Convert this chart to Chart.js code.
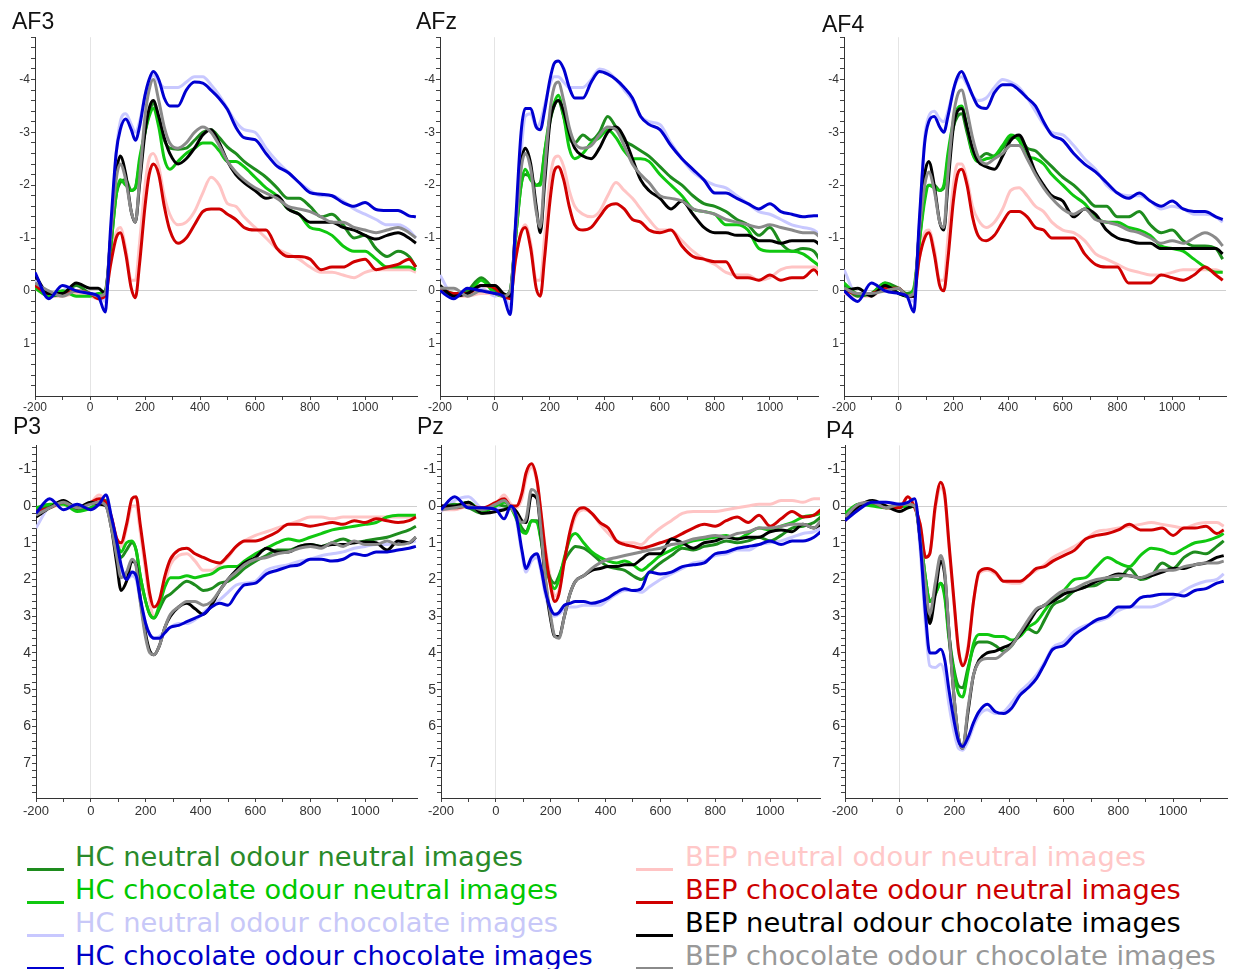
<!DOCTYPE html>
<html lang="en">
<head>
<meta charset="UTF-8">
<title>ERP waveforms</title>
<script src="https://cdn.jsdelivr.net/npm/chart.js"></script>
<style>
    body { margin: 0; background: #fff; width: 1235px; height: 969px; overflow: hidden; position: relative; font-family: "Liberation Sans", Arial, sans-serif; }
    .panel { position: absolute; }
    .title { position: absolute; font-size: 23px; line-height: 22px; color: #111; }
    .row { position: absolute; font-family: "DejaVu Sans", Verdana, sans-serif; font-size: 27.3px; line-height: 33px; white-space: nowrap; }
    .mark { position: absolute; height: 3px; width: 37px; }
</style>
</head>
<body>
<script>
// time points (ms) shared by every waveform
const TIMES = [-200,-150,-100,-50,0, 30,55,75,95,110, 130,150,165,180,200, 215,230,250,270,290,
               320,350,380,410,440, 470,500,530,560,600, 640,680,720,760,800, 840,880,920,960,1000,
               1040,1080,1120,1160,1185];

const CONDITIONS = [
    'HC neutral odour neutral images', 'HC chocolate odour neutral images',
    'HC neutral odour chocolate images', 'HC chocolate odour chocolate images',
    'BEP neutral odour neutral images', 'BEP chocolate odour neutral images',
    'BEP neutral odour chocolate images', 'BEP chocolate odour chocolate images'
];
const LINE_COLORS = ['#1e8c1e', '#10c810', '#c8c8ff', '#0000d0', '#ffc4c4', '#d00000', '#000000', '#8a8a8a'];
const TEXT_COLORS = ['#2a8a2a', '#00c800', '#c8c8f8', '#0000c8', '#ffc8c8', '#cc0000', '#000000', '#999999'];

const Y_TICKS_TOP = [-4, -3, -2, -1, 0, 1];
const Y_TICKS_BOTTOM = [-1, 0, 1, 2, 3, 4, 5, 6, 7];
const X_TICKS = [-200, 0, 200, 400, 600, 800, 1000];

// ---- AF3 (µV) ----
const AF3_HC_NN  = [-0.1,0.1,0.05,-0.1,0.05, 0.1,0.05,-0.8,-1.8,-2.05, -2.1,-1.9,-1.95,-2.4,-3.0, -3.35,-3.55,-3.2,-2.85,-2.7, -2.68,-2.7,-2.85,-3.0,-3.05, -2.9,-2.72,-2.6,-2.45,-2.3, -2.15,-1.95,-1.75,-1.75,-1.6, -1.4,-1.45,-1.25,-1.0,-1.05, -0.8,-0.65,-0.75,-0.65,-0.45];
const AF3_HC_CN  = [-0.05,0.1,0.0,0.1,0.1, 0.05,0.0,-0.8,-1.8,-2.1, -2.0,-1.9,-1.95,-2.5,-3.0, -3.3,-3.45,-3.1,-2.5,-2.3, -2.45,-2.6,-2.7,-2.8,-2.8, -2.65,-2.45,-2.45,-2.35,-2.15, -1.95,-1.8,-1.55,-1.45,-1.2, -1.15,-1.05,-0.85,-0.75,-0.75, -0.6,-0.45,-0.45,-0.45,-0.4];
const AF3_HC_NC  = [-0.2,0.1,0.0,-0.1,0.05, 0.05,0.2,-1.0,-2.6,-3.2, -3.35,-3.15,-3.0,-3.2,-3.7, -3.95,-4.08,-3.95,-3.85,-3.85, -3.85,-3.95,-4.05,-4.05,-3.9, -3.7,-3.45,-3.2,-3.05,-3.0, -2.7,-2.45,-2.25,-2.05,-1.9, -1.8,-1.8,-1.7,-1.55,-1.45, -1.35,-1.25,-1.25,-1.15,-1.0];
const AF3_HC_CC  = [-0.35,0.15,-0.1,0.0,0.05, 0.1,0.4,-1.2,-2.6,-3.05, -3.25,-3.05,-2.85,-3.1,-3.7, -4.0,-4.15,-4.0,-3.65,-3.5, -3.5,-3.8,-3.95,-3.93,-3.8, -3.64,-3.43,-3.1,-2.9,-2.86, -2.6,-2.36,-2.24,-2.05,-1.86, -1.83,-1.8,-1.67,-1.6,-1.67, -1.54,-1.52,-1.52,-1.42,-1.4];
const AF3_BEP_NN = [-0.05,0.1,0.1,0.05,0.1, 0.15,0.0,-0.6,-1.1,-1.2, -0.8,-0.2,-0.2,-0.9,-2.0, -2.5,-2.6,-2.35,-1.8,-1.45, -1.25,-1.3,-1.5,-1.85,-2.15, -2.0,-1.65,-1.6,-1.4,-1.2, -1.0,-0.8,-0.7,-0.6,-0.45, -0.35,-0.35,-0.3,-0.25,-0.35, -0.4,-0.4,-0.4,-0.4,-0.35];
const AF3_BEP_CN = [-0.1,0.05,0.05,0.0,0.05, 0.15,0.1,-0.5,-1.0,-1.1, -0.7,-0.05,0.13,-0.5,-1.6, -2.2,-2.4,-2.2,-1.6,-1.15, -0.9,-1.0,-1.25,-1.5,-1.55, -1.55,-1.45,-1.35,-1.2,-1.15, -1.15,-0.8,-0.65,-0.65,-0.6, -0.4,-0.45,-0.45,-0.55,-0.6, -0.4,-0.45,-0.5,-0.6,-0.45];
const AF3_BEP_NC = [-0.3,0.05,0.05,-0.15,-0.05, -0.05,0.05,-1.0,-2.2,-2.55, -2.2,-1.5,-1.3,-2.0,-3.0, -3.45,-3.6,-3.3,-2.9,-2.6, -2.4,-2.5,-2.7,-2.95,-3.05, -2.8,-2.45,-2.2,-2.05,-1.9, -1.75,-1.8,-1.55,-1.45,-1.3, -1.3,-1.3,-1.2,-1.15,-1.05, -0.98,-1.05,-1.1,-1.0,-0.9];
const AF3_BEP_CC = [-0.15,0.0,0.1,0.0,0.05, 0.1,0.05,-1.0,-2.1,-2.4, -2.1,-1.5,-1.3,-2.1,-3.3, -3.8,-4.0,-3.6,-3.1,-2.8, -2.7,-2.8,-3.0,-3.1,-3.0, -2.75,-2.45,-2.25,-2.1,-1.95, -1.85,-1.75,-1.6,-1.55,-1.5, -1.4,-1.3,-1.3,-1.2,-1.15, -1.1,-1.15,-1.2,-1.1,-1.0];

// ---- AFz ----
const AFZ_HC_NN  = [-0.05,0.1,0.0,-0.25,0.0, 0.1,0.0,-1.0,-2.0,-2.2, -2.15,-2.0,-2.05,-2.6,-3.2, -3.5,-3.6,-3.3,-2.9,-2.8, -2.95,-2.85,-3.0,-3.3,-3.1, -2.85,-2.75,-2.65,-2.55,-2.35, -2.15,-2.0,-1.8,-1.65,-1.6, -1.5,-1.35,-1.25,-1.05,-1.2, -0.9,-0.75,-0.8,-0.75,-0.55];
const AFZ_HC_CN  = [-0.05,0.05,0.05,-0.2,0.05, 0.1,0.0,-1.0,-2.0,-2.3, -2.1,-2.0,-2.0,-2.6,-3.3, -3.55,-3.7,-3.3,-2.7,-2.5, -2.6,-2.8,-2.9,-3.05,-2.9, -2.65,-2.5,-2.5,-2.45,-2.2, -2.0,-1.8,-1.55,-1.5,-1.45, -1.25,-1.25,-1.15,-0.8,-0.75, -0.75,-0.75,-0.7,-0.55,-0.45];
const AFZ_HC_NC  = [-0.3,0.1,0.05,-0.05,0.1, 0.05,0.3,-1.0,-2.6,-3.3, -3.35,-3.1,-3.2,-3.5,-3.9, -4.05,-4.05,-3.95,-3.85,-3.85, -3.85,-4.0,-4.2,-4.15,-4.0, -3.8,-3.6,-3.3,-3.2,-3.15, -2.8,-2.5,-2.25,-2.1,-2.0, -1.95,-1.8,-1.65,-1.5,-1.45, -1.35,-1.25,-1.2,-1.15,-1.05];
const AFZ_HC_CC  = [0.0,0.15,-0.05,0.0,0.05, 0.1,0.45,-1.3,-3.0,-3.45, -3.45,-3.1,-3.05,-3.4,-4.0, -4.3,-4.35,-4.2,-3.85,-3.65, -3.65,-3.95,-4.15,-4.1,-4.0, -3.85,-3.65,-3.3,-3.15,-3.05, -2.75,-2.5,-2.3,-2.1,-1.85, -1.85,-1.75,-1.65,-1.55,-1.65, -1.5,-1.45,-1.4,-1.42,-1.42];
const AFZ_BEP_NN = [0.0,0.1,0.1,0.05,0.05, 0.1,0.05,-0.6,-1.1,-1.25, -0.9,-0.2,-0.2,-1.0,-2.1, -2.5,-2.55,-2.35,-1.9,-1.6, -1.45,-1.4,-1.5,-1.8,-2.05, -1.9,-1.75,-1.55,-1.35,-1.15, -1.15,-0.95,-0.75,-0.6,-0.5, -0.35,-0.3,-0.3,-0.2,-0.25, -0.4,-0.45,-0.45,-0.45,-0.4];
const AFZ_BEP_CN = [-0.05,0.05,0.05,-0.1,-0.05, 0.1,0.15,-0.6,-1.1,-1.2, -0.8,-0.05,0.1,-0.6,-1.7, -2.25,-2.35,-2.1,-1.6,-1.25, -1.15,-1.2,-1.4,-1.6,-1.65, -1.55,-1.35,-1.3,-1.15,-1.1, -1.15,-0.85,-0.65,-0.6,-0.55, -0.55,-0.25,-0.25,-0.2,-0.3, -0.2,-0.25,-0.25,-0.4,-0.25];
const AFZ_BEP_NC = [-0.1,0.1,0.05,-0.1,-0.1, 0.05,0.1,-1.2,-2.4,-2.7, -2.4,-1.6,-1.1,-2.0,-3.2, -3.5,-3.6,-3.4,-3.0,-2.7, -2.55,-2.5,-2.7,-3.0,-3.1, -2.9,-2.5,-2.1,-1.9,-1.75, -1.55,-1.7,-1.45,-1.2,-1.1, -1.1,-1.05,-1.05,-0.95,-0.95, -0.9,-0.95,-0.95,-0.95,-0.85];
const AFZ_BEP_CC = [-0.05,-0.05,0.1,0.0,0.05, 0.1,0.0,-1.1,-2.3,-2.6, -2.3,-1.5,-1.2,-2.2,-3.4, -3.85,-3.95,-3.6,-3.1,-2.8, -2.7,-2.75,-2.95,-3.1,-3.05, -2.75,-2.4,-2.2,-2.05,-1.8, -1.75,-1.7,-1.55,-1.5,-1.45, -1.35,-1.3,-1.25,-1.2,-1.25, -1.2,-1.15,-1.1,-1.1,-1.0];

// ---- AF4 ----
const AF4_HC_NN  = [-0.1,0.1,0.05,-0.15,-0.05, 0.05,0.0,-0.9,-1.8,-2.0, -2.0,-1.9,-1.95,-2.5,-3.1, -3.3,-3.35,-3.0,-2.6,-2.5, -2.6,-2.55,-2.7,-2.9,-2.9, -2.7,-2.65,-2.5,-2.35,-2.15, -2.0,-1.8,-1.6,-1.6,-1.4, -1.4,-1.5,-1.25,-1.1,-1.15, -0.95,-0.85,-0.85,-0.8,-0.6];
const AF4_HC_CN  = [-0.15,0.05,0.05,-0.15,0.05, 0.1,-0.05,-0.9,-1.7,-2.0, -1.95,-1.9,-2.0,-2.6,-3.2, -3.45,-3.5,-3.1,-2.6,-2.45, -2.5,-2.55,-2.75,-2.95,-2.85, -2.55,-2.5,-2.4,-2.2,-2.0, -1.8,-1.65,-1.4,-1.3,-1.3, -1.2,-1.15,-1.05,-0.85,-0.8, -0.75,-0.6,-0.45,-0.35,-0.35];
const AF4_HC_NC  = [-0.4,0.1,0.05,-0.05,0.05, 0.1,0.2,-1.2,-2.9,-3.3, -3.4,-3.25,-3.2,-3.4,-3.8, -4.0,-4.05,-3.9,-3.7,-3.6, -3.65,-3.85,-4.0,-3.95,-3.85, -3.65,-3.4,-3.15,-3.0,-2.95, -2.75,-2.5,-2.3,-2.0,-1.85, -1.8,-1.8,-1.7,-1.55,-1.6, -1.55,-1.45,-1.45,-1.4,-1.3];
const AF4_HC_CC  = [0.0,0.2,-0.15,0.0,0.05, 0.1,0.4,-1.3,-2.8,-3.2, -3.3,-3.1,-3.0,-3.3,-3.8, -4.05,-4.15,-3.95,-3.7,-3.5, -3.45,-3.75,-3.9,-3.9,-3.8, -3.65,-3.5,-3.2,-2.95,-2.85, -2.6,-2.4,-2.25,-2.05,-1.85, -1.75,-1.85,-1.7,-1.6,-1.7, -1.55,-1.5,-1.5,-1.4,-1.35];
const AF4_BEP_NN = [0.05,0.1,0.1,-0.05,-0.05, 0.1,0.05,-0.6,-1.1,-1.15, -0.8,-0.2,-0.2,-1.0,-2.0, -2.4,-2.4,-2.1,-1.6,-1.35, -1.2,-1.3,-1.55,-1.9,-1.95, -1.8,-1.6,-1.5,-1.3,-1.15, -1.1,-0.95,-0.7,-0.6,-0.5, -0.4,-0.35,-0.3,-0.3,-0.35, -0.4,-0.4,-0.4,-0.4,-0.35];
const AF4_BEP_CN = [0.0,0.05,0.05,-0.05,-0.05, 0.1,0.1,-0.6,-1.0,-1.1, -0.7,-0.1,0.0,-0.6,-1.7, -2.2,-2.3,-2.0,-1.4,-1.05, -0.95,-1.05,-1.3,-1.5,-1.5, -1.4,-1.2,-1.15,-1.0,-1.0, -1.0,-0.7,-0.5,-0.45,-0.45, -0.15,-0.15,-0.15,-0.3,-0.25, -0.2,-0.3,-0.45,-0.3,-0.2];
const AF4_BEP_NC = [0.0,-0.05,0.1,-0.1,0.05, 0.1,0.1,-1.1,-2.2,-2.45, -2.0,-1.3,-1.15,-2.0,-3.1, -3.4,-3.45,-3.1,-2.7,-2.45, -2.35,-2.3,-2.55,-2.85,-2.95, -2.65,-2.25,-2.0,-1.8,-1.7, -1.4,-1.55,-1.45,-1.15,-1.0, -0.95,-0.9,-0.9,-0.8,-0.8, -0.8,-0.8,-0.8,-0.8,-0.7];
const AF4_BEP_CC = [-0.05,0.05,0.05,0.0,-0.05, 0.1,0.05,-1.1,-2.0,-2.25, -1.9,-1.3,-1.2,-2.2,-3.3, -3.7,-3.8,-3.4,-2.9,-2.55, -2.4,-2.5,-2.6,-2.75,-2.75, -2.5,-2.2,-1.95,-1.75,-1.55, -1.45,-1.55,-1.35,-1.3,-1.25, -1.15,-1.1,-1.0,-0.9,-0.95, -0.9,-1.0,-1.1,-1.0,-0.85];

// ---- P3 ----
const P3_HC_NN  = [0.1,0.0,-0.1,0.1,0.05, -0.1,-0.1,0.5,1.1,1.4, 1.2,1.0,1.2,1.9,2.6, 2.95,3.05,2.8,2.5,2.4, 2.2,2.05,2.15,2.3,2.25, 2.1,2.05,1.9,1.7,1.5, 1.35,1.2,1.2,1.1,1.05, 1.1,1.0,0.9,1.0,0.95, 0.9,0.85,0.75,0.65,0.55];
const P3_HC_CN  = [0.05,-0.05,-0.05,0.15,0.05, -0.1,-0.15,0.5,1.0,1.25, 1.0,0.95,1.2,1.9,2.6, 2.95,3.05,2.7,2.2,1.95, 1.95,1.9,1.95,1.9,1.85, 1.7,1.65,1.65,1.5,1.3, 1.15,1.0,0.9,0.95,0.85, 0.75,0.65,0.6,0.55,0.5, 0.45,0.3,0.25,0.25,0.25];
const P3_HC_NC  = [0.6,0.0,-0.1,0.0,0.05, -0.1,-0.3,0.3,1.1,1.7, 2.0,1.9,2.0,2.6,3.2, 3.5,3.6,3.55,3.4,3.3, 3.2,3.2,3.1,2.9,2.7, 2.55,2.35,2.15,2.1,2.05, 1.75,1.65,1.6,1.5,1.45, 1.35,1.3,1.25,1.15,1.1, 1.05,1.05,1.0,1.0,0.95];
const P3_HC_CC  = [0.2,-0.2,0.1,-0.05,0.1, -0.05,-0.3,0.3,1.0,1.6, 2.0,1.8,1.9,2.5,3.2, 3.5,3.6,3.6,3.45,3.3, 3.25,3.15,3.05,2.95,2.75, 2.65,2.7,2.4,2.15,2.1, 1.85,1.75,1.65,1.6,1.45, 1.45,1.5,1.45,1.3,1.35, 1.25,1.25,1.2,1.15,1.1];
const P3_BEP_NN = [0.1,0.05,-0.05,0.05,-0.1, -0.3,-0.1,0.3,0.9,1.1, 0.6,0.0,0.0,0.7,1.8, 2.6,3.0,2.7,2.1,1.6, 1.35,1.3,1.5,1.75,1.75, 1.6,1.4,1.1,0.95,0.8, 0.7,0.6,0.5,0.4,0.3, 0.3,0.35,0.3,0.3,0.3, 0.3,0.3,0.3,0.3,0.25];
const P3_BEP_CN = [0.15,0.05,-0.1,0.05,-0.1, -0.2,-0.1,0.3,0.9,1.0, 0.5,-0.2,-0.25,0.5,1.6, 2.4,2.75,2.55,1.9,1.45, 1.2,1.15,1.3,1.4,1.5, 1.55,1.35,1.1,0.95,0.95, 0.85,0.7,0.5,0.5,0.55, 0.5,0.45,0.5,0.4,0.45, 0.35,0.4,0.45,0.4,0.3];
const P3_BEP_NC = [0.3,0.05,-0.15,0.05,-0.1, -0.05,0.0,0.6,1.6,2.3, 2.05,1.5,1.6,2.5,3.5, 3.95,4.05,3.8,3.3,3.0, 2.75,2.65,2.8,2.95,2.7, 2.3,2.0,1.75,1.55,1.4, 1.15,1.25,1.25,1.1,1.05, 1.1,1.05,1.05,1.0,0.98, 1.0,1.2,0.95,1.0,0.85];
const P3_BEP_CC = [0.25,0.05,-0.1,0.05,-0.05, -0.1,0.0,0.6,1.4,1.95, 1.8,1.45,1.65,2.6,3.6, 4.0,4.05,3.8,3.3,2.95, 2.75,2.6,2.6,2.7,2.6, 2.3,2.0,1.8,1.6,1.45, 1.4,1.3,1.25,1.15,1.1, 1.15,1.0,1.1,0.95,1.05, 1.05,0.95,1.05,1.0,0.85];

// ---- Pz ----
const PZ_HC_NN  = [0.05,-0.05,0.05,0.2,-0.05, 0.0,0.05,0.3,0.6,0.7, 0.4,0.4,0.9,1.5,2.0, 2.1,1.9,1.5,1.25,1.1, 1.15,1.3,1.5,1.65,1.7, 1.75,1.9,2.0,1.8,1.55, 1.35,1.15,1.2,1.1,1.05, 0.95,1.0,0.95,0.85,0.95, 0.8,0.6,0.55,0.45,0.3];
const PZ_HC_CN  = [0.05,0.0,-0.1,0.15,0.0, -0.1,0.05,0.35,0.7,0.75, 0.4,0.45,0.95,1.6,2.1, 2.25,2.0,1.4,0.9,0.75, 1.0,1.25,1.4,1.5,1.55, 1.5,1.6,1.75,1.6,1.35, 1.2,1.05,0.95,0.9,0.85, 0.8,0.9,0.75,0.6,0.65, 0.55,0.45,0.3,0.25,0.2];
const PZ_HC_NC  = [0.15,-0.15,-0.25,0.05,0.05, 0.1,0.0,0.4,1.3,1.8, 1.5,1.4,1.8,2.4,2.9, 3.0,2.95,2.8,2.75,2.75, 2.7,2.7,2.7,2.55,2.4, 2.3,2.3,2.35,2.2,2.0, 1.85,1.7,1.55,1.5,1.35, 1.3,1.2,1.2,1.05,1.0, 0.95,0.85,0.75,0.7,0.6];
const PZ_HC_CC  = [0.1,-0.25,0.05,0.05,0.1, 0.35,0.0,0.3,1.2,1.7, 1.4,1.3,1.7,2.3,2.8, 2.95,2.9,2.7,2.65,2.6, 2.6,2.65,2.6,2.5,2.35, 2.25,2.3,2.25,1.8,1.85, 1.8,1.65,1.6,1.55,1.3, 1.25,1.15,1.1,1.05,0.95, 1.05,0.95,0.95,0.85,0.7];
const PZ_BEP_NN = [0.1,0.1,0.0,0.05,-0.05, -0.3,-0.05,0.05,-0.2,-0.75, -1.05,-0.65,0.2,1.1,2.0, 2.45,2.3,1.5,0.8,0.3, 0.1,0.2,0.5,0.75,0.95, 1.0,1.0,1.05,0.85,0.6, 0.4,0.2,0.15,0.15,0.15, 0.1,0.05,0.0,-0.05,-0.05, -0.15,-0.15,-0.1,-0.2,-0.2];
const PZ_BEP_CN = [0.0,0.05,0.0,0.05,-0.1, -0.2,0.0,0.0,-0.35,-0.9, -1.15,-0.7,0.2,1.2,2.2, 2.6,2.4,1.5,0.7,0.2, 0.05,0.2,0.45,0.6,0.95, 1.05,1.1,1.15,1.1,1.0, 0.9,0.75,0.6,0.5,0.55, 0.4,0.3,0.45,0.25,0.55, 0.35,0.15,0.3,0.25,0.1];
const PZ_BEP_NC = [0.0,0.0,-0.1,0.2,0.15, 0.1,0.05,0.15,0.4,0.45, -0.3,-0.2,0.8,2.0,3.1, 3.55,3.55,3.0,2.4,2.05, 1.9,1.75,1.7,1.65,1.65, 1.6,1.6,1.45,1.3,1.3, 0.9,1.0,1.15,1.0,0.95, 0.85,0.9,0.85,0.85,0.7, 0.65,0.7,0.5,0.6,0.5];
const PZ_BEP_CC = [0.1,0.05,0.0,0.1,-0.05, -0.15,0.05,0.25,0.45,0.35, -0.45,-0.3,0.7,1.9,3.0, 3.55,3.6,3.0,2.4,2.05, 1.9,1.7,1.55,1.45,1.4, 1.35,1.3,1.25,1.2,1.15, 1.05,1.0,0.9,0.85,0.8, 0.85,0.75,0.7,0.6,0.6, 0.55,0.5,0.5,0.6,0.4];

// ---- P4 ----
const P4_HC_NN  = [0.3,-0.05,-0.05,0.05,0.05, -0.05,0.0,0.8,2.0,2.6, 2.4,2.1,2.4,3.5,4.5, 4.9,4.95,4.4,3.85,3.7, 3.7,3.8,3.95,3.8,3.45, 3.35,3.45,3.1,2.7,2.55, 2.3,2.2,2.15,2.0,2.0, 1.7,2.0,1.9,1.55,1.7, 1.4,1.25,1.3,1.1,0.95];
const P4_HC_CN  = [0.2,-0.05,0.0,0.05,-0.05, 0.05,0.0,0.8,2.0,2.6, 2.4,2.1,2.5,3.6,4.6, 5.1,5.2,4.5,3.75,3.5, 3.5,3.55,3.55,3.65,3.55, 3.3,3.15,2.85,2.55,2.3, 2.0,1.95,1.65,1.4,1.55, 1.65,1.35,1.15,1.2,1.3, 1.15,1.0,0.95,0.85,0.75];
const P4_HC_NC  = [0.35,0.05,-0.1,-0.1,-0.05, 0.0,-0.1,1.2,3.3,4.35, 4.4,4.3,4.6,5.4,6.2, 6.6,6.65,6.4,6.0,5.7, 5.55,5.65,5.6,5.35,5.05, 4.85,4.6,4.25,3.85,3.7, 3.4,3.25,3.15,3.05,2.85, 2.75,2.75,2.75,2.65,2.5, 2.3,2.15,2.05,2.0,1.85];
const P4_HC_CC  = [0.4,0.1,-0.1,-0.1,-0.05, -0.1,-0.2,1.0,3.0,4.0, 4.0,3.9,4.2,5.0,5.9, 6.4,6.55,6.3,5.9,5.6, 5.4,5.6,5.65,5.5,5.15, 4.95,4.7,4.3,3.9,3.8, 3.5,3.3,3.1,3.0,2.75, 2.75,2.5,2.45,2.4,2.4, 2.45,2.3,2.25,2.1,2.05];
const P4_BEP_NN = [0.3,-0.05,-0.1,0.0,0.0, -0.25,0.0,0.5,1.4,1.3, 0.1,-0.5,-0.2,1.1,2.8, 3.95,4.3,3.8,2.6,1.85, 1.75,1.85,2.05,2.1,2.1, 1.9,1.75,1.6,1.4,1.25, 1.1,0.9,0.7,0.65,0.6, 0.55,0.5,0.45,0.5,0.55, 0.6,0.5,0.45,0.45,0.55];
const P4_BEP_CN = [0.4,0.0,-0.1,0.05,0.05, -0.25,0.05,0.5,1.4,1.3, 0.0,-0.65,-0.3,1.0,2.7, 3.9,4.35,3.9,2.6,1.8, 1.7,1.8,2.05,2.05,2.05, 1.9,1.7,1.65,1.5,1.35, 1.2,0.9,0.8,0.75,0.65, 0.5,0.65,0.65,0.6,0.8, 0.6,0.6,0.55,0.75,0.65];
const P4_BEP_NC = [0.35,0.0,-0.15,0.0,0.15, 0.05,0.0,0.9,2.4,3.2, 2.4,1.5,1.9,3.4,5.3, 6.3,6.6,5.6,4.6,4.2, 4.0,3.95,3.85,3.75,3.5, 3.2,2.85,2.7,2.6,2.4, 2.3,2.2,2.05,1.95,1.85, 1.9,1.95,1.9,1.8,1.7, 1.7,1.6,1.55,1.4,1.35];
const P4_BEP_CC = [0.3,-0.05,-0.1,0.05,-0.05, -0.05,0.0,0.9,2.2,2.95, 2.1,1.35,1.8,3.4,5.3, 6.3,6.6,5.5,4.6,4.25, 4.15,4.15,4.0,3.8,3.45, 3.1,2.8,2.7,2.5,2.3, 2.25,2.1,2.0,1.95,1.9, 1.9,1.95,1.85,1.75,1.75, 1.65,1.6,1.55,1.55,1.5];

// panel placement: axis box in page pixels
const PANELS = [
    { name: 'AF3', data: [AF3_HC_NN, AF3_HC_CN, AF3_HC_NC, AF3_HC_CC, AF3_BEP_NN, AF3_BEP_CN, AF3_BEP_NC, AF3_BEP_CC], ax: 35,  right: 417, top: 33,  bottom: 396, xMax: 1189, titleX: 12,  titleY: 10 },
    { name: 'AFz', data: [AFZ_HC_NN, AFZ_HC_CN, AFZ_HC_NC, AFZ_HC_CC, AFZ_BEP_NN, AFZ_BEP_CN, AFZ_BEP_NC, AFZ_BEP_CC], ax: 440, right: 818, top: 33,  bottom: 396, xMax: 1175, titleX: 416, titleY: 10 },
    { name: 'AF4', data: [AF4_HC_NN, AF4_HC_CN, AF4_HC_NC, AF4_HC_CC, AF4_BEP_NN, AF4_BEP_CN, AF4_BEP_NC, AF4_BEP_CC], ax: 844, right: 1226, top: 33, bottom: 396, xMax: 1197, titleX: 822, titleY: 13 },
    { name: 'P3',  data: [P3_HC_NN, P3_HC_CN, P3_HC_NC, P3_HC_CC, P3_BEP_NN, P3_BEP_CN, P3_BEP_NC, P3_BEP_CC],         ax: 36,  right: 417, top: 440, bottom: 798, xMax: 1189, titleX: 13,  titleY: 415 },
    { name: 'Pz',  data: [PZ_HC_NN, PZ_HC_CN, PZ_HC_NC, PZ_HC_CC, PZ_BEP_NN, PZ_BEP_CN, PZ_BEP_NC, PZ_BEP_CC],         ax: 441, right: 820, top: 440, bottom: 798, xMax: 1182, titleX: 417, titleY: 415 },
    { name: 'P4',  data: [P4_HC_NN, P4_HC_CN, P4_HC_NC, P4_HC_CC, P4_BEP_NN, P4_BEP_CN, P4_BEP_NC, P4_BEP_CC],         ax: 845, right: 1227, top: 440, bottom: 798, xMax: 1197, titleX: 826, titleY: 419 }
];

// drawing order: first dataset ends up on top
const DRAW_ORDER = [3, 7, 6, 5, 1, 0, 4, 2];

const Y_LEFT = 35, PAD_TOP = 4;

// tick marks every `step` within [min, max], on clean multiples
function stepTicks(min, max, step) {
    const out = [];
    for (let i = Math.ceil(min / step - 1e-9); i <= Math.floor(max / step + 1e-9); i++) {
        out.push({ value: Math.round(i * step * 1000) / 1000 });
    }
    return out;
}

PANELS.forEach((p, idx) => {
    p.data.forEach((arr, k) => {
        if (arr.length !== TIMES.length) throw new Error(p.name + ' series ' + k + ' has ' + arr.length + ' points');
    });
    const isTop = idx < 3;
    const xH = isTop ? 22 : 24;
    const left = p.ax - Y_LEFT;
    const top = p.top - PAD_TOP;
    const w = p.right + 2 - left;
    const h = p.bottom + xH - top;

    const div = document.createElement('div');
    div.className = 'panel';
    div.style.cssText = `left:${left}px;top:${top}px;width:${w}px;height:${h}px;`;
    const cv = document.createElement('canvas');
    cv.width = w; cv.height = h;
    div.appendChild(cv);
    document.body.appendChild(div);

    const t = document.createElement('div');
    t.className = 'title';
    t.style.left = p.titleX + 'px';
    t.style.top = p.titleY + 'px';
    t.textContent = p.name;
    document.body.appendChild(t);

    const yTicks = isTop ? Y_TICKS_TOP : Y_TICKS_BOTTOM;
    new Chart(cv.getContext('2d'), {
        type: 'line',
        data: {
            datasets: DRAW_ORDER.map(k => ({
                label: CONDITIONS[k],
                data: TIMES.map((tm, i) => ({ x: tm, y: p.data[k][i] })),
                borderColor: LINE_COLORS[k],
                borderWidth: 3,
                pointRadius: 0,
                fill: false,
                cubicInterpolationMode: 'monotone'
            }))
        },
        options: {
            responsive: false,
            animation: false,
            devicePixelRatio: 1,
            layout: { padding: { top: PAD_TOP, right: 2, left: 0, bottom: 0 } },
            plugins: { legend: { display: false }, tooltip: { enabled: false } },
            scales: {
                x: {
                    type: 'linear', min: -200, max: p.xMax,
                    afterFit: s => { s.height = xH; },
                    afterBuildTicks: s => { s.ticks = stepTicks(-200, p.xMax, 100); },
                    ticks: {
                        autoSkip: false, maxRotation: 0, padding: isTop ? 0 : 2,
                        color: '#333', font: { family: 'Liberation Sans', size: isTop ? 12 : 13 },
                        callback: v => X_TICKS.includes(v) ? String(v) : ''
                    },
                    grid: {
                        drawOnChartArea: true, tickLength: 4, tickColor: '#444',
                        color: c => (c.tick && c.tick.value === 0) ? '#e4e4e4' : 'rgba(0,0,0,0)'
                    },
                    border: { display: true, color: '#333', width: 1 }
                },
                y: {
                    type: 'linear', reverse: true,
                    min: isTop ? -4.8 : -1.65, max: isTop ? 1.99 : 7.95,
                    afterFit: s => { s.width = Y_LEFT; },
                    afterBuildTicks: s => { s.ticks = stepTicks(s.min, s.max, 0.2); },
                    ticks: {
                        autoSkip: false, padding: 1,
                        color: '#333', font: { family: 'Liberation Sans', size: isTop ? 12 : 14 },
                        callback: v => {
                            const r = Math.round(v);
                            return (Math.abs(v - r) < 1e-6 && yTicks.includes(r)) ? String(r) : '';
                        }
                    },
                    grid: {
                        drawOnChartArea: true, tickLength: 4, tickColor: '#444',
                        color: c => (c.tick && Math.abs(c.tick.value) < 1e-6) ? '#cfcfcf' : 'rgba(0,0,0,0)'
                    },
                    border: { display: true, color: '#333', width: 1 }
                }
            }
        }
    });
});

// legend (two columns of four)
const LEGEND_ROWS_TOP = 840, LEGEND_STEP = 33;
CONDITIONS.forEach((label, k) => {
    const col = k < 4 ? 0 : 1;
    const row = k % 4;
    const y = LEGEND_ROWS_TOP + row * LEGEND_STEP;
    const mark = document.createElement('div');
    mark.className = 'mark';
    mark.style.left = (col ? 636 : 27) + 'px';
    mark.style.top = (y + 28) + 'px';
    mark.style.background = LINE_COLORS[k];
    document.body.appendChild(mark);
    const txt = document.createElement('div');
    txt.className = 'row';
    txt.style.left = (col ? 685 : 75) + 'px';
    txt.style.top = y + 'px';
    txt.style.color = TEXT_COLORS[k];
    txt.textContent = label;
    document.body.appendChild(txt);
});
</script>
</body>
</html>
